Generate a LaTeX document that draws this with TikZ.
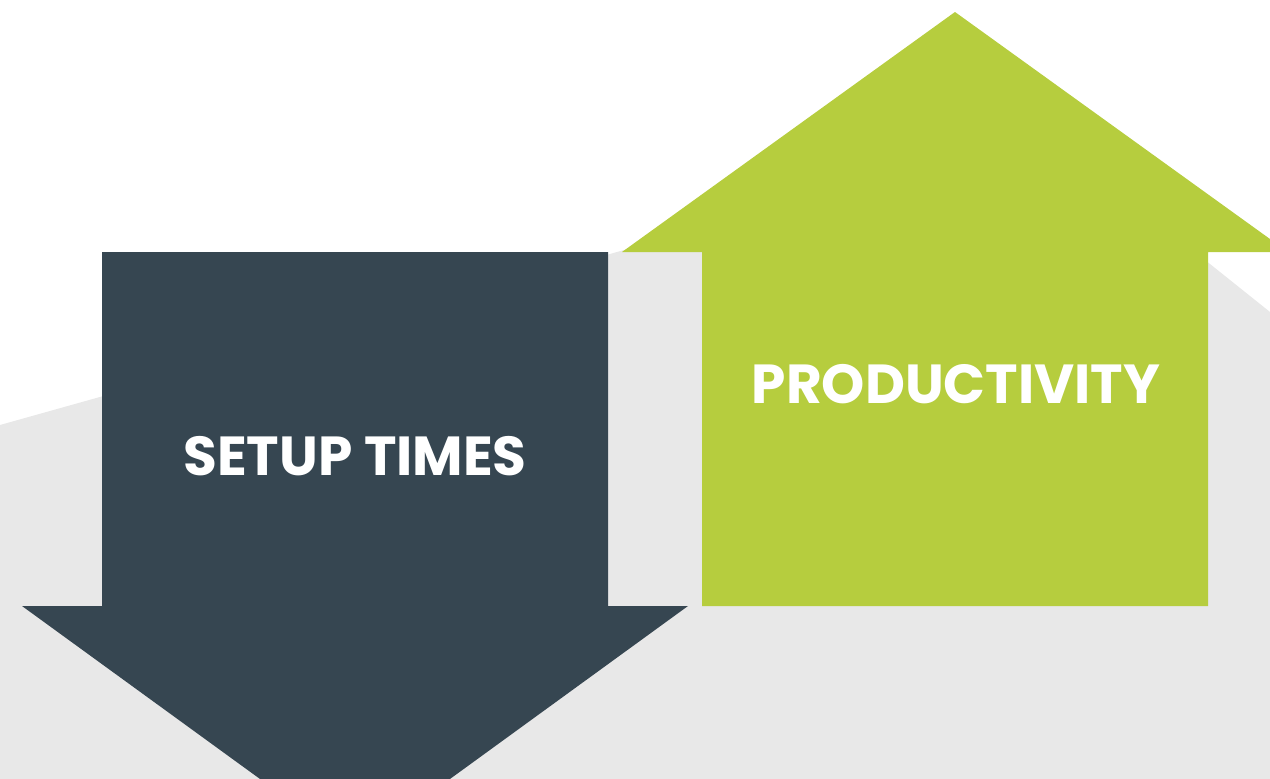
\documentclass[tikz,border=0pt]{standalone}
\usepackage{fontspec}
\setmainfont{Poppins}[UprightFont=* Bold]
\definecolor{darkslate}{RGB}{54,70,81}
\definecolor{lime}{RGB}{182,205,62}
\definecolor{lightgray}{RGB}{232,232,232}
\tikzset{
  label text/.style={text=white, font=\fontsize{55}{55}\selectfont, inner sep=0pt, anchor=center}
}
\begin{document}
\begin{tikzpicture}[x=1pt,y=-1pt]
\useasboundingbox (0,0) rectangle (1270,779);
\begin{scope}
\clip (0,0) rectangle (1270,779);
% gray background
\fill[lightgray] (0,425) -- (1045,132) -- (1270,312) -- (1270,779) -- (0,779) -- cycle;
% dark down arrow
\fill[darkslate] (102,252) -- (608,252) -- (608,606) -- (688,606) -- (355,848) -- (22,606) -- (102,606) -- cycle;
% green up arrow
\fill[lime] (702,606) -- (1208,606) -- (1208,252) -- (1288,252) -- (955,12) -- (622,252) -- (702,252) -- cycle;
\end{scope}
\node[label text] (setup) at (355,456) {SETUP TIMES};
\node[label text] (prod) at (956,384) {PRODUCTIVITY};
\end{tikzpicture}
\end{document}
